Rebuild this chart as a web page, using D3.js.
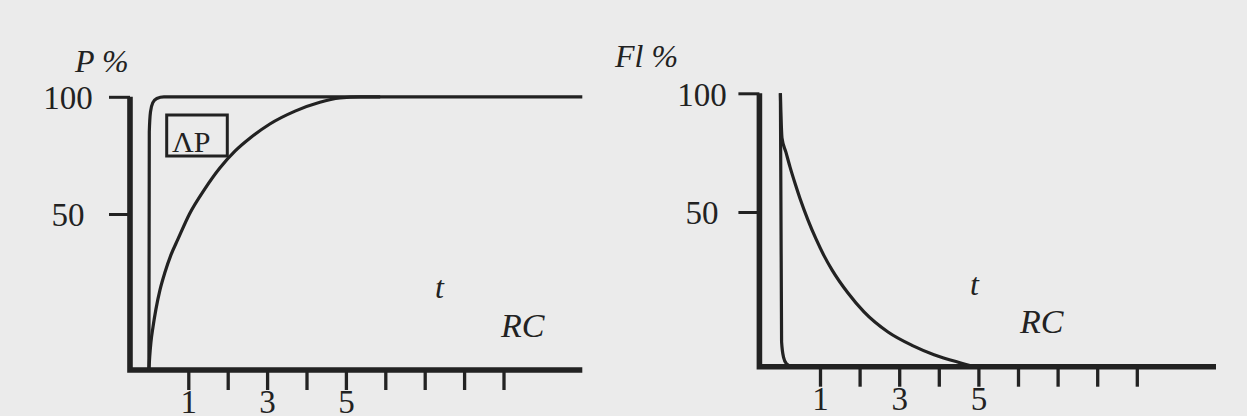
<!DOCTYPE html>
<html>
<head>
<meta charset="utf-8">
<script src="https://cdn.jsdelivr.net/npm/d3@7/dist/d3.min.js"></script>
<style>
  html, body { margin: 0; padding: 0; background: #ebebeb; }
  svg { display: block; }
  text { font-family: "Liberation Serif", "Times New Roman", serif; fill: #222; }
</style>
</head>
<body>
<svg id="chart" width="1247" height="416"></svg>
<script>
// ---------------- data ----------------
const timeTicks = [1, 2, 3, 4, 5, 6, 7, 8, 9];          // in units of RC
const timeTickLabels = [1, 3, 5];                        // labelled ticks
const percentTicks = [50, 100];
const percentTickLabels = ["50", "100"];

// Pressure (%) vs t/RC  — left panel
const pressureStep = [[0, 0], [0.01, 85], [0.04, 93.5], [0.1, 97.5], [0.2, 99.3], [0.38, 100], [11, 100]];
const pressureSlow = [[0, 0], [0.02, 4.2], [0.05, 8.7], [0.104, 13.8], [0.18, 19.6], [0.28, 25.6], [0.41, 31.4],
                      [0.56, 36.9], [0.74, 42.0], [1.03, 50], [1.42, 60.7], [1.8, 69.6], [2.19, 76.9],
                      [2.57, 82.4], [3.07, 88.4], [3.71, 93.9], [4.34, 97.7], [4.85, 99.5], [5.36, 100], [5.87, 100]];

// Flow (%) vs t/RC — right panel
const flowStep = [[0, 100], [0.03, 8], [0.08, 3], [0.15, 1], [0.3, 0], [11, 0]];
const flowSlow = [[0, 100], [0.01, 93.0], [0.023, 86.6], [0.04, 81.2], [0.141, 75.1], [0.242, 69.0],
                  [0.369, 62.1], [0.495, 55.7], [0.697, 47.4], [0.899, 41.3], [1.101, 35.9], [1.303, 31.3],
                  [1.707, 23.8], [2.111, 17.7], [2.717, 11.2], [3.323, 6.9], [3.879, 3.9], [4.434, 1.7],
                  [4.939, 0.1], [5.42, 0], [5.93, 0]];

const panels = [
  { title: "P %", boxLabel: "ΛP", curves: [pressureStep, pressureSlow],
    xRange: [148.9, 582.3], yAxisT: -0.48, yRange: [370, 214, 96.8],
    titlePos: [75, 72], yLabelX: 68, tPos: [435, 298], rcPos: [501, 337], tickPad: 0 },
  { title: "Fl %", boxLabel: null, curves: [flowStep, flowSlow],
    xRange: [780.4, 1216], yAxisT: -0.53, yRange: [366.7, 212, 93.3],
    titlePos: [615, 67], yLabelX: 702, tPos: [970, 295], rcPos: [1020, 333], tickPad: 0 }
];

// ---------------- drawing ----------------
const ink = "#222";
const svg = d3.select("#chart");

panels.forEach(p => {
  const x = d3.scaleLinear().domain([0, 11]).range(p.xRange);
  const y = d3.scaleLinear().domain([0, 50, 100]).range(p.yRange);
  const g = svg.append("g");
  const ax = x(p.yAxisT);

  // x axis ticks (d3 axis)
  const xAxis = d3.axisBottom(x)
    .tickValues(timeTicks)
    .tickSize(20)
    .tickPadding(p.tickPad)
    .tickFormat(d => timeTickLabels.includes(d) ? String(d) : "");
  const gx = g.append("g").attr("transform", `translate(0,${y(0)})`).call(xAxis);
  gx.select(".domain").remove();
  gx.selectAll(".tick line").attr("stroke", ink).attr("stroke-width", 3.3);
  gx.selectAll(".tick text").attr("font-size", 33).attr("fill", ink)
    .attr("font-family", "Liberation Serif");

  // y axis ticks (d3 axis)
  const yAxis = d3.axisLeft(y)
    .tickValues(percentTicks)
    .tickSize(21)
    .tickFormat((d, i) => percentTickLabels[i]);
  const gy = g.append("g").attr("transform", `translate(${ax},0)`).call(yAxis);
  gy.select(".domain").remove();
  gy.selectAll(".tick line").attr("stroke", ink).attr("stroke-width", 3);
  gy.selectAll(".tick text").attr("font-size", 33).attr("fill", ink)
    .attr("text-anchor", "middle").attr("x", p.yLabelX - ax).attr("dy", "0.36em")
    .attr("font-family", "Liberation Serif");

  // thick axis lines
  g.append("path")
    .attr("d", `M${ax},${y(100)} L${ax},${y(0)} L${x(11)},${y(0)}`)
    .attr("fill", "none").attr("stroke", ink).attr("stroke-width", 5.6)
    .attr("stroke-linejoin", "miter");

  // curves
  const line = d3.line().x(d => x(d[0])).y(d => y(d[1])).curve(d3.curveMonotoneX);
  p.curves.forEach(c => {
    g.append("path").attr("d", line(c))
      .attr("fill", "none").attr("stroke", ink).attr("stroke-width", 3.2)
      .attr("stroke-linejoin", "round").attr("stroke-linecap", "butt");
  });

  // titles and annotations
  g.append("text").attr("x", p.titlePos[0]).attr("y", p.titlePos[1])
    .attr("font-size", 32).attr("font-style", "italic").text(p.title);
  g.append("text").attr("x", p.tPos[0]).attr("y", p.tPos[1])
    .attr("font-size", 32).attr("font-style", "italic").text("t");
  g.append("text").attr("x", p.rcPos[0]).attr("y", p.rcPos[1])
    .attr("font-size", 34).attr("font-style", "italic").text("RC");

  if (p.boxLabel) {
    g.append("rect").attr("x", 166.7).attr("y", 115).attr("width", 60.6).attr("height", 41)
      .attr("fill", "none").attr("stroke", ink).attr("stroke-width", 3);
    g.append("text").attr("x", 172).attr("y", 151.5).attr("font-size", 30).text(p.boxLabel);
  }
});
</script>
</body>
</html>
